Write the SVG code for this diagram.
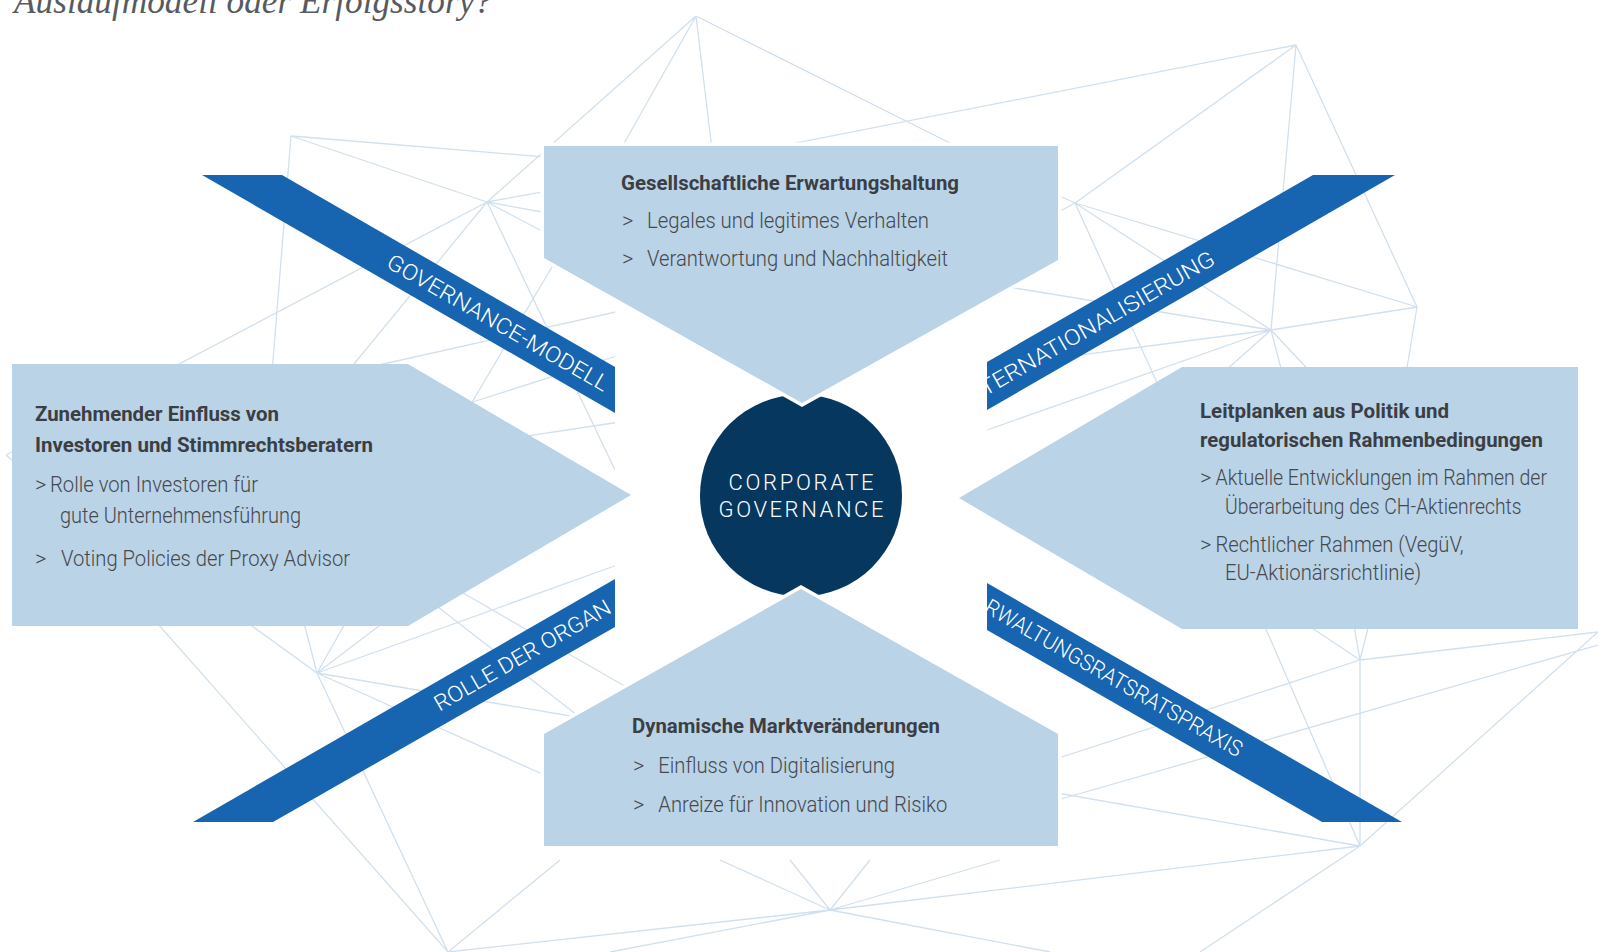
<svg xmlns="http://www.w3.org/2000/svg" width="1598" height="952" viewBox="0 0 1598 952">
<style>
.mesh{stroke:#d1e0ed;stroke-width:1.3;fill:none}
.box{fill:#bad3e7}
.halo{fill:#fff;stroke:#fff;stroke-width:7;stroke-linejoin:miter}
.rib{fill:#1764b0}
.t{font-family:Roboto,"Liberation Sans",sans-serif}
.h{font-weight:700;font-size:21px;fill:#3b3e43}
.b{font-weight:300;font-size:22px;fill:#45484d}
.rt{font-family:Roboto,"Liberation Sans",sans-serif;font-weight:300;font-size:22px;fill:#fff}
.ct{font-family:Roboto,"Liberation Sans",sans-serif;font-weight:300;font-size:22px;fill:#fff}
</style>
<defs>
<clipPath id="c1"><polygon points="202,175 282,175 615,367 615,413"/></clipPath>
<clipPath id="c2"><polygon points="1313,175 1395,175 987,410 987,362"/></clipPath>
<clipPath id="c3"><polygon points="615,579 615,627 273,822 193,822"/></clipPath>
<clipPath id="c4"><polygon points="987,583 1402,822 1322,822 987,630"/></clipPath>
</defs>
<rect width="1598" height="952" fill="#fff"/>
<text x="14" y="13" font-family="'Liberation Serif',serif" font-style="italic" font-size="35" fill="#575b61" textLength="478" lengthAdjust="spacingAndGlyphs">Auslaufmodell oder Erfolgsstory?</text>
<g id="mesh">
<path class="mesh" d="M696,16L487,202M696,16L592,200M696,16L718,200M696,16L1000,168M760,150L1296,45M1296,45L1075,203M1296,45L1271,330M1296,45L1417,307M1075,203L1271,330M1075,203L1417,307M1075,203L1040,187M1075,203L1040,222M1075,203L1165,400M1271,330L1417,307M1271,330L990,284M1271,330L970,436M1271,330L980,368M1271,330L1215,380M1271,330L1284,380M1271,330L1318,380M1417,307L1405,380M291,136L487,202M291,136L570,159M291,136L271,385M487,202L570,187M487,202L570,217M487,202L570,246M487,202L6,455M6,455L60,500M487,202L345,375M487,202L615,470M585,211L455,431M370,367L620,311M460,406L620,355M500,440L620,422M317,673L230,610M317,673L298,600M317,673L355,606M317,673L400,610M317,673L620,564M317,673L600,721M317,673L560,782M317,673L448,952M150,615L448,952M438,607L577,715M463,593L628,688M448,952L830,910M448,952L560,860M830,910L720,860M830,910L790,860M830,910L870,860M830,910L1000,860M830,910L1360,846M830,910L610,952M830,910L1050,952M1360,660L1360,846M1360,660L1353,620M1360,660L1300,620M1360,660L1370,620M1360,660L1598,632M1360,660L1040,764M1040,805L1598,645M1360,846L1262,620M1360,846L1598,632M1360,846L1040,790M1360,846L1200,952"/>
</g>
<rect x="615" y="146" width="372" height="514" fill="#fff"/>
<g id="circle">
<circle cx="801" cy="495.5" r="101" fill="#06385f"/>
<text class="ct" x="801" y="490" text-anchor="middle" textLength="145" lengthAdjust="spacing">CORPORATE</text>
<text class="ct" x="801" y="517" text-anchor="middle" textLength="165" lengthAdjust="spacing">GOVERNANCE</text>
</g>
<g id="box-top">
<polygon class="halo" points="544,146 1058,146 1058,260 802,403 544,258"/>
<polygon class="box" points="544,146 1058,146 1058,260 802,403 544,258"/>
<text class="t h" x="621" y="190" textLength="338" lengthAdjust="spacingAndGlyphs">Gesellschaftliche Erwartungshaltung</text>
<text class="t b" x="622" y="228">&gt;</text>
<text class="t b" x="647" y="228" textLength="282" lengthAdjust="spacingAndGlyphs">Legales und legitimes Verhalten</text>
<text class="t b" x="622" y="266">&gt;</text>
<text class="t b" x="647" y="266" textLength="301" lengthAdjust="spacingAndGlyphs">Verantwortung und Nachhaltigkeit</text>
</g>
<g id="box-left">
<polygon class="box" points="12,364 408,364 631,495 408,626 12,626"/>
<text class="t h" x="35" y="421" textLength="244" lengthAdjust="spacingAndGlyphs">Zunehmender Einfluss von</text>
<text class="t h" x="35" y="452" textLength="338" lengthAdjust="spacingAndGlyphs">Investoren und Stimmrechtsberatern</text>
<text class="t b" x="35" y="492">&gt;</text>
<text class="t b" x="50" y="492" textLength="208" lengthAdjust="spacingAndGlyphs">Rolle von Investoren für</text>
<text class="t b" x="60" y="523" textLength="241" lengthAdjust="spacingAndGlyphs">gute Unternehmensführung</text>
<text class="t b" x="35" y="566">&gt;</text>
<text class="t b" x="61" y="566" textLength="289" lengthAdjust="spacingAndGlyphs">Voting Policies der Proxy Advisor</text>
</g>
<g id="box-right">
<polygon class="box" points="1578,367 1182,367 959,498 1182,629 1578,629"/>
<text class="t h" x="1200" y="418" textLength="249" lengthAdjust="spacingAndGlyphs">Leitplanken aus Politik und</text>
<text class="t h" x="1200" y="447" textLength="343" lengthAdjust="spacingAndGlyphs">regulatorischen Rahmenbedingungen</text>
<text class="t b" x="1200" y="485">&gt;</text>
<text class="t b" x="1215.5" y="485" textLength="331.5" lengthAdjust="spacingAndGlyphs">Aktuelle Entwicklungen im Rahmen der</text>
<text class="t b" x="1225" y="514" textLength="296.5" lengthAdjust="spacingAndGlyphs">Überarbeitung des CH-Aktienrechts</text>
<text class="t b" x="1200" y="552">&gt;</text>
<text class="t b" x="1215.5" y="552" textLength="248" lengthAdjust="spacingAndGlyphs">Rechtlicher Rahmen (VegüV,</text>
<text class="t b" x="1225" y="580" textLength="196" lengthAdjust="spacingAndGlyphs">EU-Aktionärsrichtlinie)</text>
</g>
<g id="box-bottom">
<polygon class="halo" points="544,846 1058,846 1058,734 801,589 544,734"/>
<polygon class="box" points="544,846 1058,846 1058,734 801,589 544,734"/>
<text class="t h" x="632" y="733" textLength="308" lengthAdjust="spacingAndGlyphs">Dynamische Marktveränderungen</text>
<text class="t b" x="633" y="773">&gt;</text>
<text class="t b" x="658.3" y="773" textLength="236.7" lengthAdjust="spacingAndGlyphs">Einfluss von Digitalisierung</text>
<text class="t b" x="633" y="812">&gt;</text>
<text class="t b" x="658.3" y="812" textLength="289" lengthAdjust="spacingAndGlyphs">Anreize für Innovation und Risiko</text>
</g>
<g id="ribbon-governance">
<polygon class="rib" points="202,175 282,175 615,367 615,413"/>
<g clip-path="url(#c1)"><text class="rt" transform="translate(385,266.5) rotate(29.9)" textLength="252" lengthAdjust="spacingAndGlyphs">GOVERNANCE-MODELL</text></g>
</g>
<g id="ribbon-international">
<polygon class="rib" points="1313,175 1395,175 987,410 987,362"/>
<g clip-path="url(#c2)"><text class="rt" transform="translate(985,396.4) rotate(-29.9)" textLength="267" lengthAdjust="spacingAndGlyphs">TERNATIONALISIERUNG</text></g>
</g>
<g id="ribbon-organe">
<polygon class="rib" points="615,579 615,627 273,822 193,822"/>
<g clip-path="url(#c3)"><text class="rt" transform="translate(439.5,711.7) rotate(-29.9)" textLength="200" lengthAdjust="spacingAndGlyphs">ROLLE DER ORGAN</text></g>
</g>
<g id="ribbon-vr">
<polygon class="rib" points="987,583 1402,822 1322,822 987,630"/>
<g clip-path="url(#c4)"><text class="rt" transform="translate(983,611.5) rotate(29.9)" textLength="293" lengthAdjust="spacingAndGlyphs">RWALTUNGSRATSRATSPRAXIS</text></g>
</g>
</svg>
